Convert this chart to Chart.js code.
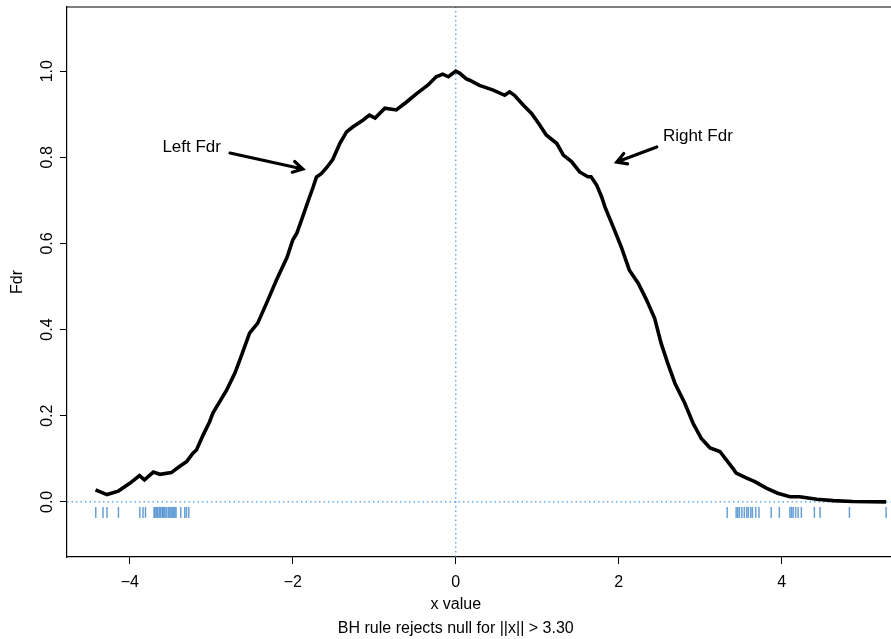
<!DOCTYPE html>
<html>
<head>
<meta charset="utf-8">
<title>Fdr</title>
<script src="https://cdn.jsdelivr.net/npm/chart.js@4.4.0/dist/chart.umd.min.js"></script>
<style>
html, body { margin: 0; padding: 0; background: #fff; }
#wrap { width: 891px; height: 639px; }
</style>
</head>
<body>
<div id="wrap"><canvas id="fdrChart" width="891" height="639"></canvas></div>
<script>
// Fdr curve
const fdrX = [-4.42, -4.28, -4.14, -4.00, -3.88, -3.82, -3.71, -3.63, -3.49, -3.39,
    -3.30, -3.23, -3.18, -3.10, -3.02, -2.98, -2.81, -2.71, -2.65, -2.53,
    -2.43, -2.32, -2.20, -2.07, -2.00, -1.95, -1.88, -1.82, -1.75, -1.71,
    -1.65, -1.58, -1.51, -1.42, -1.34, -1.26, -1.14, -1.06, -0.99, -0.87,
    -0.73, -0.60, -0.48, -0.34, -0.24, -0.16, -0.09, 0.00, 0.05, 0.13,
    0.17, 0.29, 0.46, 0.60, 0.66, 0.72, 0.83, 0.93, 1.03, 1.11,
    1.24, 1.32, 1.42, 1.52, 1.62, 1.66, 1.73, 1.79, 1.83, 1.93,
    2.03, 2.13, 2.24, 2.34, 2.44, 2.52, 2.60, 2.69, 2.81, 2.91,
    3.01, 3.12, 3.24, 3.40, 3.44, 3.57, 3.67, 3.81, 3.95, 4.10,
    4.22, 4.43, 4.63, 4.87, 5.28];
const fdrY = [0.028, 0.017, 0.025, 0.043, 0.061, 0.051, 0.069, 0.064, 0.068, 0.082,
    0.094, 0.112, 0.121, 0.155, 0.186, 0.206, 0.260, 0.299, 0.329, 0.392,
    0.415, 0.462, 0.515, 0.568, 0.608, 0.624, 0.661, 0.694, 0.731, 0.754,
    0.762, 0.777, 0.795, 0.833, 0.859, 0.871, 0.886, 0.898, 0.891, 0.914,
    0.910, 0.929, 0.948, 0.968, 0.987, 0.993, 0.987, 1.000, 0.995, 0.982,
    0.979, 0.967, 0.956, 0.944, 0.952, 0.944, 0.921, 0.902, 0.875, 0.852,
    0.832, 0.805, 0.790, 0.766, 0.755, 0.755, 0.735, 0.708, 0.685, 0.639,
    0.592, 0.538, 0.507, 0.469, 0.426, 0.368, 0.322, 0.275, 0.229, 0.183,
    0.148, 0.125, 0.117, 0.078, 0.067, 0.055, 0.047, 0.032, 0.020, 0.012,
    0.012, 0.006, 0.003, 0.001, 0.000];

// rejected cases (rug marks)
const rugLeft = [-4.417, -4.328, -4.279, -4.139, -3.877, -3.837, -3.807, -3.702, -3.688, -3.669,
    -3.655, -3.636, -3.621, -3.601, -3.588, -3.571, -3.553, -3.530, -3.515, -3.497,
    -3.480, -3.466, -3.448, -3.432, -3.374, -3.325, -3.304, -3.276];
const rugRight = [3.33, 3.44, 3.46, 3.48, 3.51, 3.54, 3.57, 3.59, 3.62, 3.64,
    3.68, 3.72, 3.87, 3.97, 4.10, 4.12, 4.14, 4.17, 4.20, 4.24,
    4.40, 4.47, 4.83, 5.28];

const xLimits = [-4.77, 5.34];
const yLimits = [-0.128, 1.149];
const rugLevel = -0.0244;

const xTitle = 'x value';
const subTitle = 'BH rule rejects null for ||x|| > 3.30';
const yTitle = 'Fdr';

// arrow labels: text position, arrow start, arrow end (data units)
const notes = [
    { text: 'Left Fdr', at: [-3.24, 0.824], from: [-2.77, 0.810], to: [-1.877, 0.773] },
    { text: 'Right Fdr', at: [2.97, 0.849], from: [2.466, 0.824], to: [1.975, 0.789] },
];

const FONT = '"Liberation Sans", Arial, Helvetica, sans-serif';
const RUG_COLOR = 'rgba(40, 120, 200, 0.7)';
const REF_COLOR = 'rgb(70, 155, 225)';

const curve = fdrX.map((x, i) => ({ x: x, y: fdrY[i] }));
const rug = rugLeft.concat(rugRight).map((x) => ({ x: x, y: rugLevel }));

function minusLabel(v) {
    return v < 0 ? '\u2212' + Math.abs(v) : String(v);
}

// keep the plot frame where the layout puts it, no label overhang padding
function noPadding(scale) {
    scale.paddingTop = 0;
    scale.paddingBottom = 0;
    scale.paddingLeft = 0;
    scale.paddingRight = 0;
}

const annotate = {
    id: 'annotate',
    afterDraw(chart) {
        const { ctx, chartArea, scales } = chart;
        const xs = scales.x;
        const ys = scales.y;
        ctx.save();
        // top frame line (the right one falls off the picture)
        ctx.strokeStyle = '#000';
        ctx.lineWidth = 1.2;
        ctx.beginPath();
        ctx.moveTo(chartArea.left, chartArea.top);
        ctx.lineTo(chartArea.right, chartArea.top);
        ctx.stroke();

        ctx.fillStyle = '#000';
        ctx.font = '17px ' + FONT;
        ctx.textAlign = 'center';
        ctx.textBaseline = 'middle';
        notes.forEach((n) => {
            ctx.fillText(n.text, xs.getPixelForValue(n.at[0]), ys.getPixelForValue(n.at[1]));
            const x0 = xs.getPixelForValue(n.from[0]);
            const y0 = ys.getPixelForValue(n.from[1]);
            const x1 = xs.getPixelForValue(n.to[0]);
            const y1 = ys.getPixelForValue(n.to[1]);
            const ang = Math.atan2(y1 - y0, x1 - x0);
            const head = 11;
            ctx.lineWidth = 3.2;
            ctx.lineCap = 'round';
            ctx.beginPath();
            ctx.moveTo(x0, y0);
            ctx.lineTo(x1, y1);
            ctx.moveTo(x1 - head * Math.cos(ang - Math.PI / 6), y1 - head * Math.sin(ang - Math.PI / 6));
            ctx.lineTo(x1, y1);
            ctx.lineTo(x1 - head * Math.cos(ang + Math.PI / 6), y1 - head * Math.sin(ang + Math.PI / 6));
            ctx.stroke();
        });

        // x titles sit under x = 0 as in the original
        ctx.font = '16px ' + FONT;
        const cx = xs.getPixelForValue(0);
        ctx.fillText(xTitle, cx, 605);
        ctx.fillText(subTitle, cx, 629);
        ctx.restore();
    },
};

new Chart(document.getElementById('fdrChart'), {
    type: 'scatter',
    data: {
        datasets: [
            {
                data: curve,
                showLine: true,
                borderColor: '#000',
                borderWidth: 3.6,
                pointRadius: 0,
                tension: 0,
            },
            {
                data: rug,
                showLine: false,
                pointStyle: 'line',
                rotation: 90,
                pointRadius: 5.5,
                borderColor: RUG_COLOR,
                borderWidth: 1.5,
            },
            {
                data: [{ x: 0, y: yLimits[0] }, { x: 0, y: yLimits[1] }],
                showLine: true,
                borderColor: REF_COLOR,
                borderWidth: 1.2,
                borderDash: [1.5, 3],
                pointRadius: 0,
            },
            {
                data: [{ x: xLimits[0], y: 0 }, { x: xLimits[1], y: 0 }],
                showLine: true,
                borderColor: REF_COLOR,
                borderWidth: 1.2,
                borderDash: [1.5, 3],
                pointRadius: 0,
            },
        ],
    },
    options: {
        responsive: false,
        animation: false,
        devicePixelRatio: 1,
        layout: { autoPadding: false, padding: { top: 7, right: 0, left: 0, bottom: 0 } },
        plugins: {
            legend: { display: false },
            tooltip: { enabled: false },
        },
        scales: {
            x: {
                type: 'linear',
                min: xLimits[0],
                max: xLimits[1],
                afterFit(scale) { scale.height = 82; noPadding(scale); },
                border: { display: true, color: '#000', width: 1.2 },
                grid: { drawOnChartArea: false, drawTicks: true, tickLength: 7, color: '#000' },
                ticks: {
                    stepSize: 2,
                    includeBounds: false,
                    maxRotation: 0,
                    padding: 9,
                    color: '#000',
                    font: { family: FONT, size: 16 },
                    callback: minusLabel,
                },
            },
            y: {
                type: 'linear',
                min: yLimits[0],
                max: yLimits[1],
                afterFit(scale) { scale.width = 67; noPadding(scale); },
                border: { display: true, color: '#000', width: 1.2 },
                grid: { drawOnChartArea: false, drawTicks: true, tickLength: 7, color: '#000' },
                title: {
                    display: true,
                    text: yTitle,
                    color: '#000',
                    font: { family: FONT, size: 16 },
                    padding: { top: 8, bottom: 0 },
                },
                ticks: {
                    stepSize: 0.2,
                    includeBounds: false,
                    minRotation: 90,
                    maxRotation: 90,
                    crossAlign: 'center',
                    padding: 1,
                    color: '#000',
                    font: { family: FONT, size: 16 },
                    callback: (v) => v.toFixed(1),
                },
            },
        },
    },
    plugins: [annotate],
});
</script>
</body>
</html>
